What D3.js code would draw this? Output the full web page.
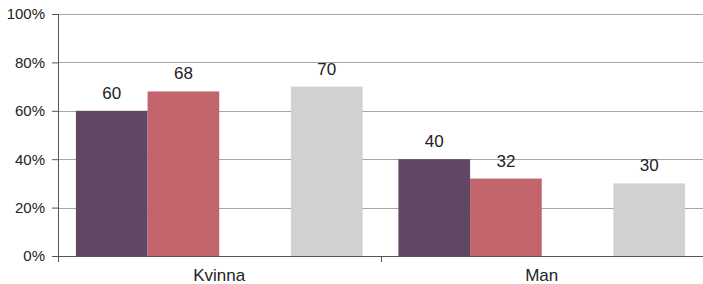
<!DOCTYPE html>
<html lang="sv">
<head>
<meta charset="UTF-8">
<title>Kvinna / Man</title>
<script src="https://d3js.org/d3.v7.min.js"></script>
<style>
    body { margin: 0; background: #fff; }
    svg { display: block; font-family: "Liberation Sans", Arial, sans-serif; }
    .grid line { stroke: #a6a6a6; stroke-width: 1; }
    .tick-label { fill: #222; }
    .cat-label { font-size: 17px; fill: #222; }
    .val-label { font-size: 17px; fill: #222; }
</style>
</head>
<body>
<div id="chart"></div>
<script>
    // data
    const categories = ["Kvinna", "Man"];
    const seriesNames = ["Serie 1", "Serie 2", "Serie 3", "Serie 4"];
    const serie1 = [60, 40];
    const serie2 = [68, 32];
    const serie3 = [null, null];   // empty slot in the picture
    const serie4 = [70, 30];
    const yTicks = [0, 20, 40, 60, 80, 100];

    const colors = ["#614763", "#c1646c", "none", "#d1d1d1"];
    const allSeries = [serie1, serie2, serie3, serie4];

    const W = 703, H = 284;
    const margin = { top: 14, right: 0, bottom: 28, left: 58 };
    const width = W - margin.left - margin.right;
    const height = H - margin.top - margin.bottom;

    const svg = d3.select("#chart").append("svg")
        .attr("width", W)
        .attr("height", H);

    const g = svg.append("g")
        .attr("transform", `translate(${margin.left},${margin.top})`);

    const x0 = d3.scaleBand()
        .domain(categories)
        .range([0, width])
        .paddingInner(0)
        .paddingOuter(0);

    // bar = 1 step, quarter step of space on each side of a group
    const x1 = d3.scaleBand()
        .domain(seriesNames)
        .range([0, x0.bandwidth()])
        .paddingInner(0)
        .paddingOuter(0.25);

    const y = d3.scaleLinear()
        .domain([0, 100])
        .range([height, 0]);

    // gridlines
    g.append("g").attr("class", "grid")
        .selectAll("line")
        .data(yTicks.filter(d => d > 0))
        .join("line")
        .attr("x1", 0)
        .attr("x2", width)
        .attr("y1", d => Math.round(y(d)) + 0.5)
        .attr("y2", d => Math.round(y(d)) + 0.5);

    // bars
    const rows = [];
    categories.forEach((c, i) => {
        seriesNames.forEach((s, j) => {
            const v = allSeries[j][i];
            if (v != null) rows.push({ cat: c, ser: s, v: v, col: colors[j] });
        });
    });

    g.selectAll(".bar")
        .data(rows)
        .join("rect")
        .attr("class", "bar")
        .attr("x", d => x0(d.cat) + x1(d.ser))
        .attr("width", x1.bandwidth())
        .attr("y", d => y(d.v))
        .attr("height", d => height - y(d.v))
        .attr("fill", d => d.col);

    g.selectAll(".val-label")
        .data(rows)
        .join("text")
        .attr("class", "val-label")
        .attr("text-anchor", "middle")
        .attr("x", d => x0(d.cat) + x1(d.ser) + x1.bandwidth() / 2)
        .attr("y", d => y(d.v) - 12)
        .text(d => d.v);

    // y axis
    const yAxis = g.append("g")
        .call(d3.axisLeft(y).tickValues(yTicks).tickSize(6).tickFormat(d => d + "%"));
    yAxis.select(".domain").remove();
    yAxis.selectAll(".tick line").attr("stroke", "#555");
    yAxis.selectAll(".tick text")
        .attr("class", "tick-label")
        .attr("x", -13)
        .style("font-size", "15px")
        .style("font-family", "'Liberation Sans', Arial, sans-serif");

    g.append("line")
        .attr("x1", 0.5).attr("x2", 0.5)
        .attr("y1", 0).attr("y2", height + 6)
        .attr("stroke", "#555");

    // x axis
    g.append("line")
        .attr("x1", 0).attr("x2", width)
        .attr("y1", height + 0.5).attr("y2", height + 0.5)
        .attr("stroke", "#555");

    g.selectAll(".cat-tick")
        .data(categories.slice(1))
        .join("line")
        .attr("class", "cat-tick")
        .attr("x1", d => Math.round(x0(d)) + 0.5)
        .attr("x2", d => Math.round(x0(d)) + 0.5)
        .attr("y1", height)
        .attr("y2", height + 6)
        .attr("stroke", "#555");

    g.selectAll(".cat-label")
        .data(categories)
        .join("text")
        .attr("class", "cat-label")
        .attr("text-anchor", "middle")
        .attr("x", d => x0(d) + x0.bandwidth() / 2)
        .attr("y", height + 25)
        .text(d => d);
</script>
</body>
</html>
